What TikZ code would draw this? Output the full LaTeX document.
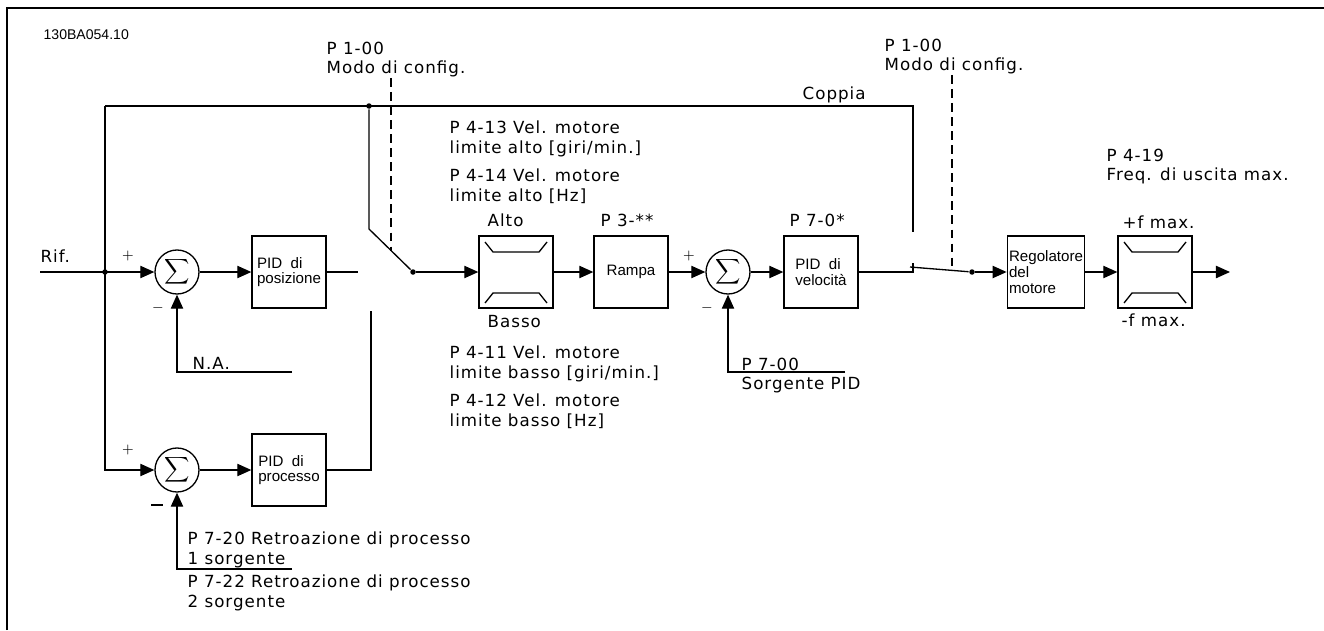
\documentclass[tikz,border=0pt]{standalone}
\usepackage{fontspec}
\newfontfamily\lblfont{DejaVu Sans}[LetterSpace=6]
\newfontfamily\boxfont{Liberation Sans}
\usetikzlibrary{arrows.meta}

\begin{document}
\begin{tikzpicture}[x=0.2mm, y=-0.2mm, line width=0.75pt,
	blk/.style={draw, minimum width=14.8mm, minimum height=14.4mm, inner sep=1pt, align=left, font=\boxfont\fontsize{8.6}{9}\selectfont},
	sumnode/.style={draw, circle, minimum size=8.8mm, inner sep=0pt, font=\fontsize{11}{12}\selectfont},
	lbl/.style={anchor=base west, inner sep=0pt, align=left, font=\lblfont\fontsize{9.5}{11.2}\selectfont},
	sgn/.style={inner sep=0pt, font=\fontsize{8.5}{9}\selectfont},
	link/.style={-{Triangle[length=8pt,width=7pt]}},
	dot/.style={circle, fill, inner sep=0pt, minimum size=1.1mm},
	cfg/.style={dash pattern=on 5pt off 3pt}]
			
			\useasboundingbox (0,0) rectangle (1324,630);
			\draw [line width=1.2pt] (7,630) -- (7,8) -- (1324,8);
			
			\node (code) [lbl, font=\boxfont\fontsize{8}{9}\selectfont] at (43,39) {130BA054.10};
			
			\node (sum1) [sumnode] at (177,272) {$\displaystyle\sum$};
			\node (pid1) [blk] at (289,272) {PID\ \ di\\posizione};
			\node (sum2) [sumnode] at (177,470) {$\displaystyle\sum$};
			\node (pid2) [blk] at (289,470) {PID\ \ di\\processo};
			\node (lim1) [blk] at (516,272) {};
			\node (ramp) [blk] at (631,272) {Rampa};
			\node (sum3) [sumnode] at (728,272) {$\displaystyle\sum$};
			\node (pid3) [blk] at (821,272) {PID\ \ di\\velocità};
			\node (reg) [blk] at (1046,272) {Regolatore\\del\\motore};
			\node (lim2) [blk] at (1155,272) {};
			
			\foreach \lim in {lim1,lim2} {
				\draw [shift={(\lim.center)}] (-31,-30) -- (-23,-20) -- (23,-20) -- (31,-30);
				\draw [shift={(\lim.center)}] (-31,31) -- (-23,21) -- (23,21) -- (31,31);
			}
			
			\node (j1) [dot] at (105,272) {};
			\node (j2) [dot] at (369,106) {};
			\node (sw1) [dot] at (413,272) {};
			\node (sw2) [dot] at (972,272) {};
			\coordinate (rif) at (40,272);
			\coordinate (tl) at (105,106);
			\coordinate (tr) at (913,106);
			\coordinate (c2up) at (913,232);
			\coordinate (c2dn) at (913,272);
			\coordinate (c2arm) at (910,267);
			\coordinate (k1) at (369,229);
			\coordinate (s1a) at (358,272);
			\coordinate (s1b) at (371,311);
			\coordinate (na) at (292,372);
			\coordinate (fb2) at (292,569);
			\coordinate (fb3) at (845,372);
			\coordinate (out) at (1230,272);
			\coordinate (d1) at (391,251);
			\coordinate (d2) at (952,270);
			
			\node (cfg1) [lbl, anchor=north west] at (326,41) {P 1-00\\Modo di config.};
			\node (cfg2) [lbl, anchor=north west] at (884,38) {P 1-00\\Modo di config.};
			\node (coppia) [lbl] at (802,99) {Coppia};
			\node (hi1) [lbl, anchor=north west] at (449,120) {P 4-13 Vel. motore\\limite alto [giri/min.]};
			\node (hi2) [lbl, anchor=north west] at (449,168) {P 4-14 Vel. motore\\limite alto [Hz]};
			\node (lo1) [lbl, anchor=north west] at (449,345) {P 4-11 Vel. motore\\limite basso [giri/min.]};
			\node (lo2) [lbl, anchor=north west] at (449,393) {P 4-12 Vel. motore\\limite basso [Hz]};
			\node (alto) [lbl] at (487,226) {Alto};
			\node (basso) [lbl] at (487,327) {Basso};
			\node (ramplbl) [lbl] at (600,226) {P 3-**};
			\node (pid3lbl) [lbl] at (789,226) {P 7-0*};
			\node (fhi) [lbl] at (1122,228) {+f max.};
			\node (flo) [lbl] at (1121,326) {-f max.};
			\node (src) [lbl, anchor=north west] at (741,357) {P 7-00\\Sorgente PID};
			\node (fmax) [lbl, anchor=north west] at (1106,148) {P 4-19\\Freq. di uscita max.};
			\node (riflbl) [lbl] at (40,262) {Rif.};
			\node (nalbl) [lbl] at (192,369) {N.A.};
			\node (fb2a) [lbl, anchor=north west] at (187,531) {P 7-20 Retroazione di processo\\1 sorgente};
			\node (fb2b) [lbl, anchor=north west] at (187,574) {P 7-22 Retroazione di processo\\2 sorgente};
			
			\node (p1) [sgn] at (128,256) {$+$};
			\node (m1) [sgn] at (158,308) {$-$};
			\node (p2) [sgn] at (128,450) {$+$};
			\node (m2) [sgn] at (157,505) {\rule{6.5pt}{1.3pt}};
			\node (p3) [sgn] at (689,256) {$+$};
			\node (m3) [sgn] at (707,308) {$-$};
			
			\draw [link] (rif) -- (sum1);
			\draw [link] (tl) |- (sum2);
			\draw (tl) -- (tr) -- (c2up);
			\draw [link] (sum1) -- (pid1);
			\draw (pid1) -- (s1a);
			\draw (j2) -- (k1) -- (sw1);
			\draw (pid2) -| (s1b);
			\draw [link] (sum2) -- (pid2);
			\draw [link] (na) -| (sum1);
			\draw [link] (fb2) -| (sum2);
			\draw [link] (sw1) -- (lim1);
			\draw [link] (lim1) -- (ramp);
			\draw [link] (ramp) -- (sum3);
			\draw [link] (sum3) -- (pid3);
			\draw [link] (fb3) -| (sum3);
			\draw (pid3) -- (c2dn) -- ++(0,-9);
			\draw (c2arm) -- (sw2);
			\draw [link] (sw2) -- (reg);
			\draw [link] (reg) -- (lim2);
			\draw [link] (lim2) -- (out);
			
			\draw [cfg] (cfg1.south -| d1) -- (d1);
			\draw [cfg] (cfg2.south -| d2) -- (d2);
			
\end{tikzpicture}
\end{document}
